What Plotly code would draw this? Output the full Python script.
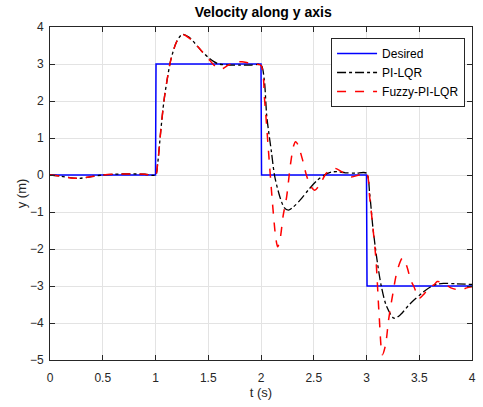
import plotly.graph_objects as go

# Desired step reference
t_des = [0, 1.0, 1.005, 2.0, 2.005, 3.0, 3.005, 4.0]
y_des = [0, 0, 3, 3, 0, 0, -3, -3]

# PI-LQR response
t_pi = [0, 0.1, 0.2, 0.28, 0.38, 0.5, 0.6, 0.75, 0.9, 1.0,
        1.02, 1.05, 1.08, 1.11, 1.145, 1.2, 1.255, 1.32, 1.4, 1.443, 1.5, 1.55, 1.6, 1.7, 1.8, 1.9, 2.0,
        2.03, 2.055, 2.1, 2.13, 2.18, 2.22, 2.26, 2.3, 2.37, 2.45, 2.53, 2.6, 2.67, 2.73, 2.8, 2.9, 3.0,
        3.03, 3.06, 3.1, 3.14, 3.19, 3.26, 3.32, 3.4, 3.45, 3.53, 3.61, 3.67, 3.73, 3.85, 4.0]
y_pi = [0, -0.03, -0.08, -0.09, -0.05, 0, 0.02, 0.03, 0.02, 0.0,
        0.3, 1.2, 2.0, 2.57, 3.11, 3.6, 3.8, 3.72, 3.47, 3.33, 3.18, 3.07, 3.0, 2.97, 2.97, 2.97, 2.97,
        2.6, 1.58, 0.6, -0.04, -0.6, -0.88, -0.95, -0.88, -0.68, -0.4, -0.15, 0.0, 0.08, 0.09, 0.06, 0.05, 0.05,
        -0.5, -1.4, -2.3, -3.0, -3.55, -3.87, -3.78, -3.52, -3.38, -3.18, -3.02, -2.95, -2.93, -2.94, -2.96]

# Fuzzy-PI-LQR response
t_fz = [0, 0.1, 0.2, 0.28, 0.38, 0.5, 0.6, 0.75, 0.9, 1.0,
        1.02, 1.05, 1.08, 1.11, 1.145, 1.2, 1.255, 1.32, 1.4, 1.443, 1.5, 1.55, 1.6, 1.64, 1.69, 1.75, 1.82, 1.88, 1.94, 2.0,
        2.035, 2.07, 2.11, 2.14, 2.158, 2.18, 2.21, 2.243, 2.28, 2.31, 2.328, 2.35, 2.39, 2.43, 2.47, 2.51, 2.56, 2.62, 2.70, 2.77, 2.85, 2.93, 3.0,
        3.03, 3.06, 3.09, 3.12, 3.15, 3.18, 3.21, 3.25, 3.29, 3.34, 3.38, 3.42, 3.45, 3.5, 3.55, 3.6, 3.64, 3.67, 3.73, 3.8, 3.89, 3.95, 4.0]
y_fz = [0, -0.03, -0.08, -0.09, -0.05, 0, 0.02, 0.03, 0.02, 0.0,
        0.3, 1.2, 2.0, 2.57, 3.11, 3.6, 3.8, 3.7, 3.47, 3.33, 3.15, 2.98, 2.86, 2.88, 2.97, 3.04, 3.06, 3.03, 3.0, 2.96,
        2.0, 0.68, -0.8, -1.7, -1.94, -1.75, -1.1, -0.59, 0.3, 0.8, 0.9, 0.82, 0.45, 0.0, -0.3, -0.41, -0.25, 0.05, 0.18, 0.08, -0.05, 0.0, 0.05,
        -0.6, -1.4, -2.3, -3.8, -4.86, -4.6, -3.9, -3.2, -2.6, -2.25, -2.45, -2.85, -3.02, -3.33, -3.2, -3.02, -2.97, -2.88, -2.92, -3.05, -3.11, -3.05, -3.02]

x_ticks = [0, 0.5, 1, 1.5, 2, 2.5, 3, 3.5, 4]
x_tick_text = ["0", "0.5", "1", "1.5", "2", "2.5", "3", "3.5", "4"]
y_ticks = [-5, -4, -3, -2, -1, 0, 1, 2, 3, 4]

fig = go.Figure()
fig.add_trace(go.Scatter(x=t_des, y=y_des, mode="lines", name="Desired",
                         line=dict(color="#0000ff", width=1.5)))
fig.add_trace(go.Scatter(x=t_pi, y=y_pi, mode="lines", name="PI-LQR",
                         line=dict(color="#000000", width=1.3, dash="dashdot", shape="spline", smoothing=0.8)))
fig.add_trace(go.Scatter(x=t_fz, y=y_fz, mode="lines", name="Fuzzy-PI-LQR",
                         line=dict(color="#ff0000", width=1.5, dash="dash", shape="spline", smoothing=0.8)))

axis_common = dict(showgrid=True, gridcolor="#e3e3e3", gridwidth=1,
                   showline=True, linecolor="#262626", linewidth=1, mirror="ticks",
                   ticks="inside", ticklen=5, tickcolor="#262626",
                   zeroline=False, tickfont=dict(size=12, color="#262626"))

fig.update_layout(
    width=483, height=407,
    margin=dict(l=50, r=7, t=27, b=47),
    paper_bgcolor="white", plot_bgcolor="white",
    font=dict(family="Liberation Sans, Arial, sans-serif", color="#262626"),
    title=dict(text="<b>Velocity along y axis</b>", x=0.545, xanchor="center", y=0.97, yanchor="middle",
               font=dict(size=14, color="#000000")),
    xaxis=dict(range=[0, 4], tickvals=x_ticks, ticktext=x_tick_text, ticklabelstandoff=7,
               title=dict(text="t (s)", font=dict(size=13, color="#262626"), standoff=0), **axis_common),
    yaxis=dict(range=[-5, 4], tickvals=y_ticks, ticklabelstandoff=3,
               title=dict(text="y (m)", font=dict(size=13, color="#262626"), standoff=0), **axis_common),
    legend=dict(x=0.666, y=0.967, xanchor="left", yanchor="top",
                bgcolor="white", bordercolor="#262626", borderwidth=1,
                font=dict(size=12, color="#000000"), itemwidth=40,
                tracegroupgap=0),
    showlegend=True,
)

fig.write_html("out.html")
